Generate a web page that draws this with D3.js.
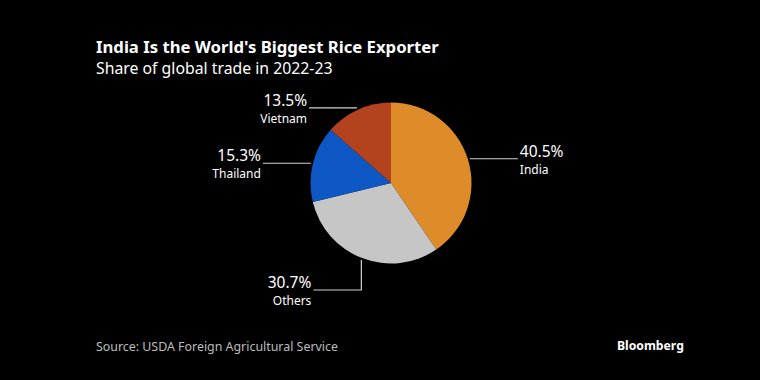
<!DOCTYPE html>
<html><head><meta charset="utf-8">
<script src="https://cdn.jsdelivr.net/npm/d3@7"></script>
<style>
html,body{margin:0;padding:0;background:#000;}
svg{display:block;font-family:"Noto Sans","Open Sans",sans-serif;}
</style></head>
<body>
<svg id="chart" width="760" height="380"></svg>
<script>
const categories = ["India", "Others", "Thailand", "Vietnam"];
const values = [40.5, 30.7, 15.3, 13.5];
const valueLabels = ["40.5%", "30.7%", "15.3%", "13.5%"];
const colors = ["#de8c29", "#c6c6c6", "#0d58c4", "#b3421f"];
const title = "India Is the World's Biggest Rice Exporter";
const subtitle = "Share of global trade in 2022-23";
const source = "Source: USDA Foreign Agricultural Service";

const svg = d3.select("#chart");
svg.append("rect").attr("width",760).attr("height",380).attr("fill","#000");

svg.append("text").attr("x",96).attr("y",53).attr("fill","#fff")
  .attr("font-size",16.7).attr("font-weight",700).text(title);
svg.append("text").attr("x",96).attr("y",74).attr("fill","#fff")
  .attr("font-size",15.8).text(subtitle);
svg.append("text").attr("x",96).attr("y",351).attr("fill","#bdbdbd")
  .attr("font-size",12.4).text(source);
svg.append("text").attr("x",617).attr("y",350).attr("fill","#fff")
  .attr("font-size",12.2).attr("font-weight",700).text("Bloomberg");

const cx = 391, cy = 183, r = 80.5;
const data = categories.map((c,i)=>({cat:c, value:values[i], label:valueLabels[i], color:colors[i]}));
const pie = d3.pie().sort(null).value(d=>d.value);
const arc = d3.arc().innerRadius(0).outerRadius(r);
const arcs = pie(data);

const g = svg.append("g").attr("transform",`translate(${cx},${cy})`);
g.selectAll("path").data(arcs).join("path")
  .attr("d",arc).attr("fill",d=>d.data.color);

// labels
const lineLen = 48;
const lr = r + 2;
arcs.forEach(a=>{
  const mid = (a.startAngle+a.endAngle)/2;
  const px = Math.sin(mid)*lr, py = -Math.cos(mid)*lr;
  let pts, tx, ty, anchor;
  if (Math.abs(Math.cos(mid)) > 0.85 && Math.cos(mid) < 0) {
    const ey = 107;
    const dir = px < 0 ? -1 : 1;
    pts = [[px,py],[px,ey],[px+dir*lineLen,ey]];
    tx = px+dir*(lineLen+2); ty = ey; anchor = dir<0?"end":"start";
  } else {
    const dir = px < 0 ? -1 : 1;
    pts = [[px,py],[px+dir*lineLen,py]];
    tx = px+dir*(lineLen+2); ty = py; anchor = dir<0?"end":"start";
  }
  g.append("path").attr("d",d3.line()(pts)).attr("fill","none")
    .attr("stroke","#d0d0d0").attr("stroke-width",1.2);
  g.append("text").attr("x",tx).attr("y",ty-2).attr("text-anchor",anchor)
    .attr("fill","#fff").attr("font-size",15.5).text(a.data.label);
  g.append("text").attr("x",tx).attr("y",ty+15).attr("text-anchor",anchor)
    .attr("fill","#fff").attr("font-size",12).text(a.data.cat);
});
</script>
</body></html>
